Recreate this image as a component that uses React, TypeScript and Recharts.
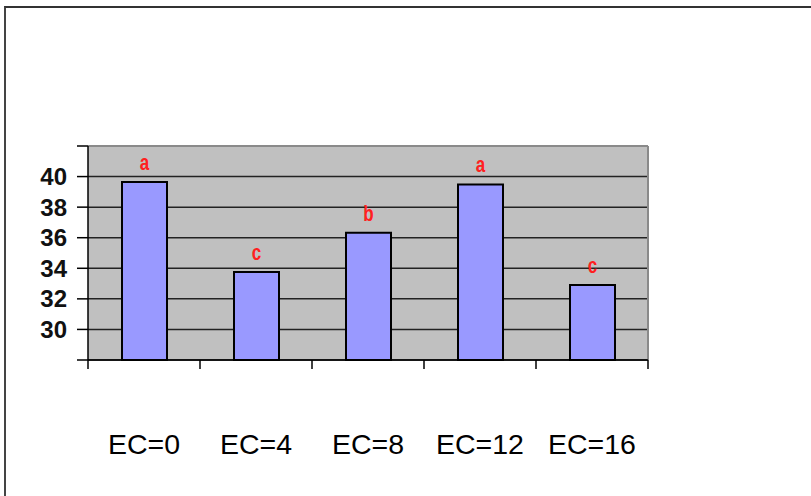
import { BarChart, Bar, XAxis, YAxis, CartesianGrid, LabelList, ReferenceLine } from "recharts"

const categories = ["EC=0", "EC=4", "EC=8", "EC=12", "EC=16"]
const values = [39.65, 33.75, 36.33, 39.48, 32.9]
const letters = ["a", "c", "b", "a", "c"]
const yTicks = [28, 30, 32, 34, 36, 38, 40, 42]

const data = categories.map((name, i) => ({ name, value: values[i], letter: letters[i] }))

const YTick = (props: any) => {
  const { x, y, payload } = props
  if (payload.value === 28 || payload.value === 42) return null
  return (
    <text x={x} y={y} textAnchor="end" dominantBaseline="central" fontSize={24} fontWeight="bold" fontFamily="Liberation Sans, Arial, sans-serif" fill="#111">
      {payload.value}
    </text>
  )
}

// category labels plus the tick marks between categories
const XTick = (props: any) => {
  const { x, y, payload, index, visibleTicksCount } = props
  const half = payload.offset ?? 56
  const last = index === visibleTicksCount - 1
  return (
    <g>
      <line x1={x - half} x2={x - half} y1={y} y2={y + 9} stroke="#000" strokeWidth={1.5} />
      {last && <line x1={x + half} x2={x + half} y1={y} y2={y + 9} stroke="#000" strokeWidth={1.5} />}
      <text x={x} y={y + 84} textAnchor="middle" dominantBaseline="central" fontSize={28.5} fontFamily="Liberation Sans, Arial, sans-serif" fill="#000">
        {payload.value}
      </text>
    </g>
  )
}

const renderLetter = (props: any) => {
  const { x, y, width, value } = props
  return (
    <g transform={`translate(${x + width / 2},${y - 20}) scale(1,1.3)`}>
      <text x={0} y={0} textAnchor="middle" dominantBaseline="central" fontSize={17} fontWeight="bold" fontFamily="Liberation Sans, Arial, sans-serif" fill="#ff2020">
        {value}
      </text>
    </g>
  )
}

const rightEdge = ({ offset }: any) => [offset.left + offset.width]

export default function App() {
  return (
    <>
      <div style={{ position: "absolute", left: 4, top: 6, right: 0, bottom: 0, borderTop: "2px solid #333", borderLeft: "2px solid #444" }} />
      <div style={{ position: "absolute", left: 0, top: 0, width: 811, height: 496 }}>
        <BarChart width={811} height={496} data={data} margin={{ top: 146, right: 163, left: 0, bottom: 0 }}>
          <CartesianGrid fill="#c0c0c0" vertical={false} stroke="#222" strokeWidth={1.5} />
          <CartesianGrid horizontal={false} verticalCoordinatesGenerator={rightEdge} stroke="#8a8a8a" strokeWidth={2} />
          <YAxis
            type="number"
            domain={[28, 42]}
            ticks={yTicks}
            width={88}
            tickSize={11}
            tickMargin={10}
            tick={<YTick />}
            axisLine={{ stroke: "#000", strokeWidth: 1.5 }}
            tickLine={{ stroke: "#000", strokeWidth: 1.5 }}
            interval={0}
          />
          <XAxis
            dataKey="name"
            height={136}
            tickSize={0}
            tickMargin={0}
            axisLine={{ stroke: "#000", strokeWidth: 1.5 }}
            tickLine={false}
            tick={<XTick />}
            interval={0}
          />
          <ReferenceLine y={42} stroke="#8a8a8a" strokeWidth={2} />
          <Bar dataKey="value" fill="#9999ff" stroke="#000" strokeWidth={2} barSize={45} isAnimationActive={false}>
            <LabelList dataKey="letter" content={renderLetter} />
          </Bar>
        </BarChart>
      </div>
    </>
  )
}
